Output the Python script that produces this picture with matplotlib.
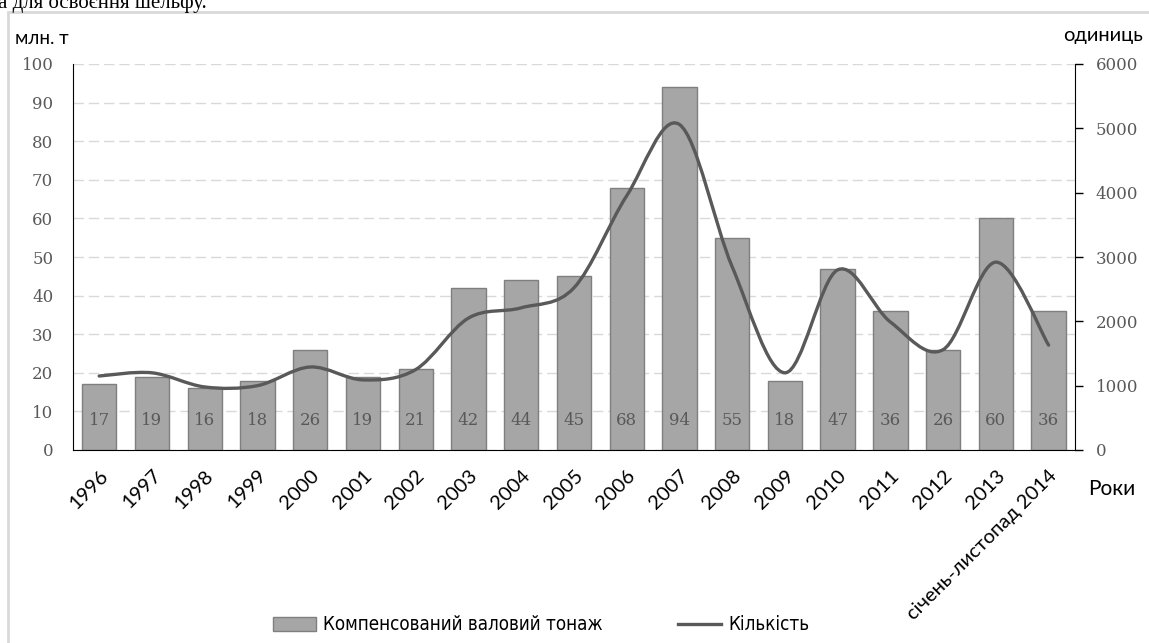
import matplotlib
matplotlib.use("Agg")
import matplotlib.pyplot as plt
import numpy as np
from matplotlib.path import Path
from matplotlib.patches import PathPatch, Rectangle, Patch
from matplotlib.lines import Line2D
from matplotlib.font_manager import FontProperties

# data
years = ["1996", "1997", "1998", "1999", "2000", "2001", "2002", "2003", "2004",
         "2005", "2006", "2007", "2008", "2009", "2010", "2011", "2012", "2013",
         "січень-листопад 2014"]
tonnage = [17, 19, 16, 18, 26, 19, 21, 42, 44, 45, 68, 94, 55, 18, 47, 36, 26, 60, 36]
count = [1150, 1200, 980, 1000, 1290, 1090, 1250, 2050, 2210, 2520, 3950, 5060,
         2850, 1200, 2800, 1990, 1560, 2920, 1630]

left_ticks = [0, 10, 20, 30, 40, 50, 60, 70, 80, 90, 100]
right_ticks = [0, 1000, 2000, 3000, 4000, 5000, 6000]

W, H = 1149, 643
fig = plt.figure(figsize=(W / 100, H / 100), dpi=100)

serif = ["DejaVu Serif"]
sans = ["Lato", "DejaVu Sans"]
grey_txt = "#595959"

# clipped caption line from the page above the chart
fig.text(-0.002, 1 - 8 / H, "а для освоєння шельфу.", family=["Liberation Serif"],
         fontsize=15, va="baseline", ha="left")

# light frame of the chart object
fig.patches.append(Rectangle((8 / W, -0.2), 1.2, 1.2 - 12 / H, transform=fig.transFigure,
                             fill=False, edgecolor="#d9d9d9", linewidth=2))

ax = fig.add_axes([72.8 / W, 1 - 450 / H, (1075 - 72.8) / W, (450 - 64) / H])
ax2 = ax.twinx()

x = np.arange(len(years))
ax.bar(x, tonnage, width=0.65, color="#a6a6a6", edgecolor="#7f7f7f", linewidth=1, zorder=2)
for xi, v in zip(x, tonnage):
    ax.text(xi, 7.6, str(v), ha="center", va="center", family=serif, fontsize=12,
            color=grey_txt, zorder=3)

ax.set_xlim(-0.5, len(years) - 0.5)
ax.set_ylim(0, 100)
ax.set_yticks(left_ticks)
ax.tick_params(axis="y", length=0, pad=14, labelsize=12, labelcolor=grey_txt)
for lab in ax.get_yticklabels():
    lab.set_family(serif)
ax.set_xticks(x)
ax.set_xticklabels(years, rotation=45, ha="right", rotation_mode="anchor",
                   family=sans, fontsize=14.5)
ax.tick_params(axis="x", length=0, pad=12)
ax.yaxis.grid(True, color="#d9d9d9", linewidth=1, linestyle=(0, (7.5, 3.5)), zorder=0)
ax.set_axisbelow(True)
for s in ["top", "right"]:
    ax.spines[s].set_visible(False)
ax.spines["left"].set_color("#000000")
ax.spines["bottom"].set_color("#000000")

# smoothed line (Catmull-Rom style bezier as in the spreadsheet chart)
pts = np.column_stack([x, count]).astype(float)
verts = [tuple(pts[0])]
codes = [Path.MOVETO]
n = len(pts)
for i in range(n - 1):
    p0 = pts[max(i - 1, 0)]
    p1 = pts[i]
    p2 = pts[i + 1]
    p3 = pts[min(i + 2, n - 1)]
    c1 = p1 + (p2 - p0) / 6
    c2 = p2 - (p3 - p1) / 6
    verts += [tuple(c1), tuple(c2), tuple(p2)]
    codes += [Path.CURVE4] * 3
ax2.add_patch(PathPatch(Path(verts, codes), fill=False, edgecolor="#595959",
                        linewidth=2.4, capstyle="round", zorder=4))

ax2.set_ylim(0, 6000)
ax2.set_yticks(right_ticks)
ax2.tick_params(axis="y", direction="out", length=6, width=1, pad=9, labelsize=12,
                labelcolor=grey_txt, color="#000000")
for lab in ax2.get_yticklabels():
    lab.set_family(serif)
for s in ["top", "left", "bottom"]:
    ax2.spines[s].set_visible(False)
ax2.spines["right"].set_color("#000000")

fig.text(15 / W, 1 - 39 / H, "млн. т", family=sans, fontsize=13.5, va="center", ha="left")
fig.text(1143 / W, 1 - 35 / H, "одиниць", family=sans, fontsize=14.5, va="center", ha="right")
fig.text(1088 / W, 1 - 489 / H, "Роки", family=sans, fontsize=15, va="center", ha="left")

legend_font = FontProperties(family="DejaVu Sans", stretch="condensed", size=13.5)
handles = [Patch(facecolor="#a6a6a6", edgecolor="#7f7f7f", linewidth=1),
           Line2D([0], [0], color="#595959", linewidth=2.4)]
fig.legend(handles, ["Компенсований валовий тонаж", "Кількість"], ncol=2,
           loc="center", bbox_to_anchor=(541 / W, 1 - 625 / H), frameon=False,
           prop=legend_font, handlelength=2.3, handleheight=0.8,
           handletextpad=0.4, columnspacing=4.0)

fig.savefig("out.png", dpi=100)
